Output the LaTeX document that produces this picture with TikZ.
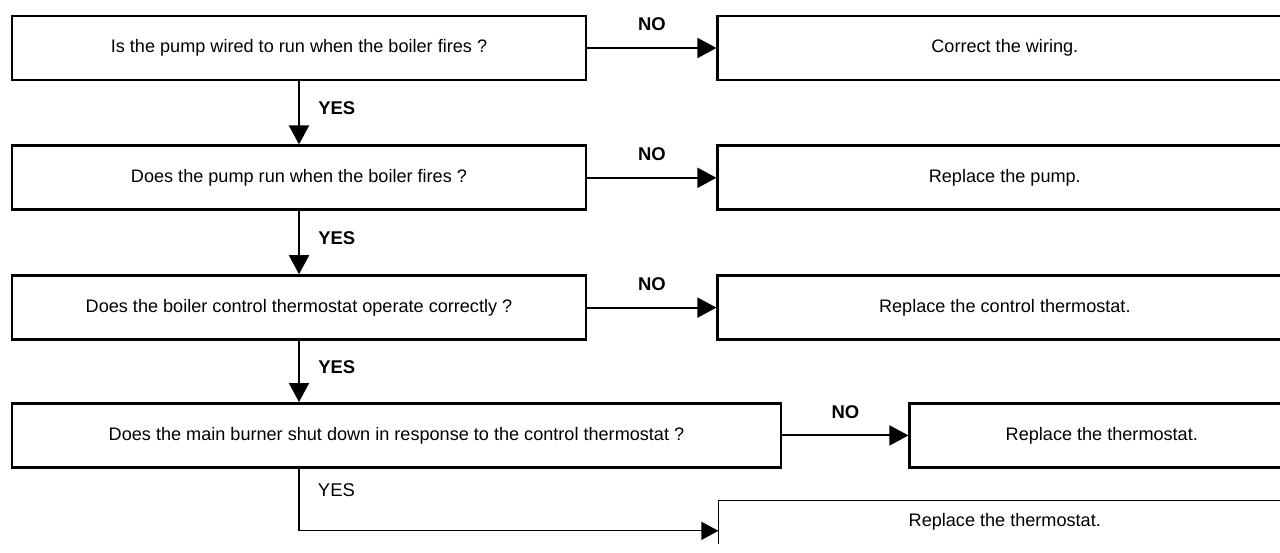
\documentclass[tikz,border=0pt]{standalone}
\usepackage{fontspec}
\setmainfont{Liberation Sans}
\usetikzlibrary{arrows.meta, positioning, calc}
\tikzset{
    qbox/.style={rectangle, draw=black, line width=1.6pt, minimum height=1.28cm, align=center, font=\fontsize{10.3}{12}\selectfont},
    abox/.style={qbox, minimum width=11.48cm},
    openbox/.style={rectangle, minimum height=0.84cm, minimum width=11.44cm, align=center, font=\fontsize{10.3}{12}\selectfont},
    yeslabel/.style={right=0.25cm, font=\fontsize{10.5}{12}\selectfont\bfseries},
    yesplain/.style={right=0.25cm, font=\fontsize{10.5}{12}\selectfont},
    nolabel/.style={above=0.2cm, font=\fontsize{10.5}{12}\selectfont\bfseries},
    arrow/.style={-{Triangle[length=0.38cm, width=0.4cm]}, line width=1.1pt, draw=black},
    thinarrow/.style={-{Triangle[length=0.34cm, width=0.36cm]}, line width=0.7pt, draw=black}
}
\begin{document}
\begin{tikzpicture}[node distance=1.26cm and 2.58cm]
    \useasboundingbox (0,0) rectangle (25.6,-11.06);
    \clip (0,0) rectangle (25.6,-11.06);
    \node[qbox, minimum width=11.48cm] (q1) at (5.98,-0.96) {Is the pump wired to run when the boiler fires ?};
    \node[qbox, minimum width=11.48cm, below=of q1] (q2) {Does the pump run when the boiler fires ?};
    \node[qbox, minimum width=11.48cm, below=of q2] (q3) {Does the boiler control thermostat operate correctly ?};
    \node[qbox, minimum width=15.38cm, below right=1.22cm and 0cm of q3.south west] (q4) {Does the main burner shut down in response to the control thermostat ?};
    \node[abox, right=of q1] (r1) {Correct the wiring.};
    \node[abox, right=of q2] (r2) {Replace the pump.};
    \node[abox, right=of q3] (r3) {Replace the control thermostat.};
    \node[qbox, minimum width=7.68cm, right=2.52cm of q4] (r4) {Replace the thermostat.};
    \node[openbox, anchor=north west] (r5) at ($(r3.west |- r4.south)+(0.04,-0.64)$) {Replace the thermostat.};
    \draw[line width=0.7pt] (r5.south west) -- (r5.north west) -- (r5.north east);
    \draw[arrow] (q1) -- (r1) node[nolabel, midway] {NO};
    \draw[arrow] (q2) -- (r2) node[nolabel, midway] {NO};
    \draw[arrow] (q3) -- (r3) node[nolabel, midway] {NO};
    \draw[arrow] (q4) -- (r4) node[nolabel, midway] {NO};
    \draw[arrow] (q1) -- (q2) node[yeslabel, pos=0.42] {YES};
    \draw[arrow] (q2) -- (q3) node[yeslabel, pos=0.42] {YES};
    \draw[arrow] (q3.south) -- (q3.south |- q4.north) node[yeslabel, pos=0.42] {YES};
    \coordinate (bend) at ($(q3.south |- q4.south)+(0,-1.24)$);
    \draw[thinarrow] (q3.south |- q4.south) -- node[yesplain, pos=0.35] {YES} (bend) -- (bend -| r5.west);
\end{tikzpicture}
\end{document}
